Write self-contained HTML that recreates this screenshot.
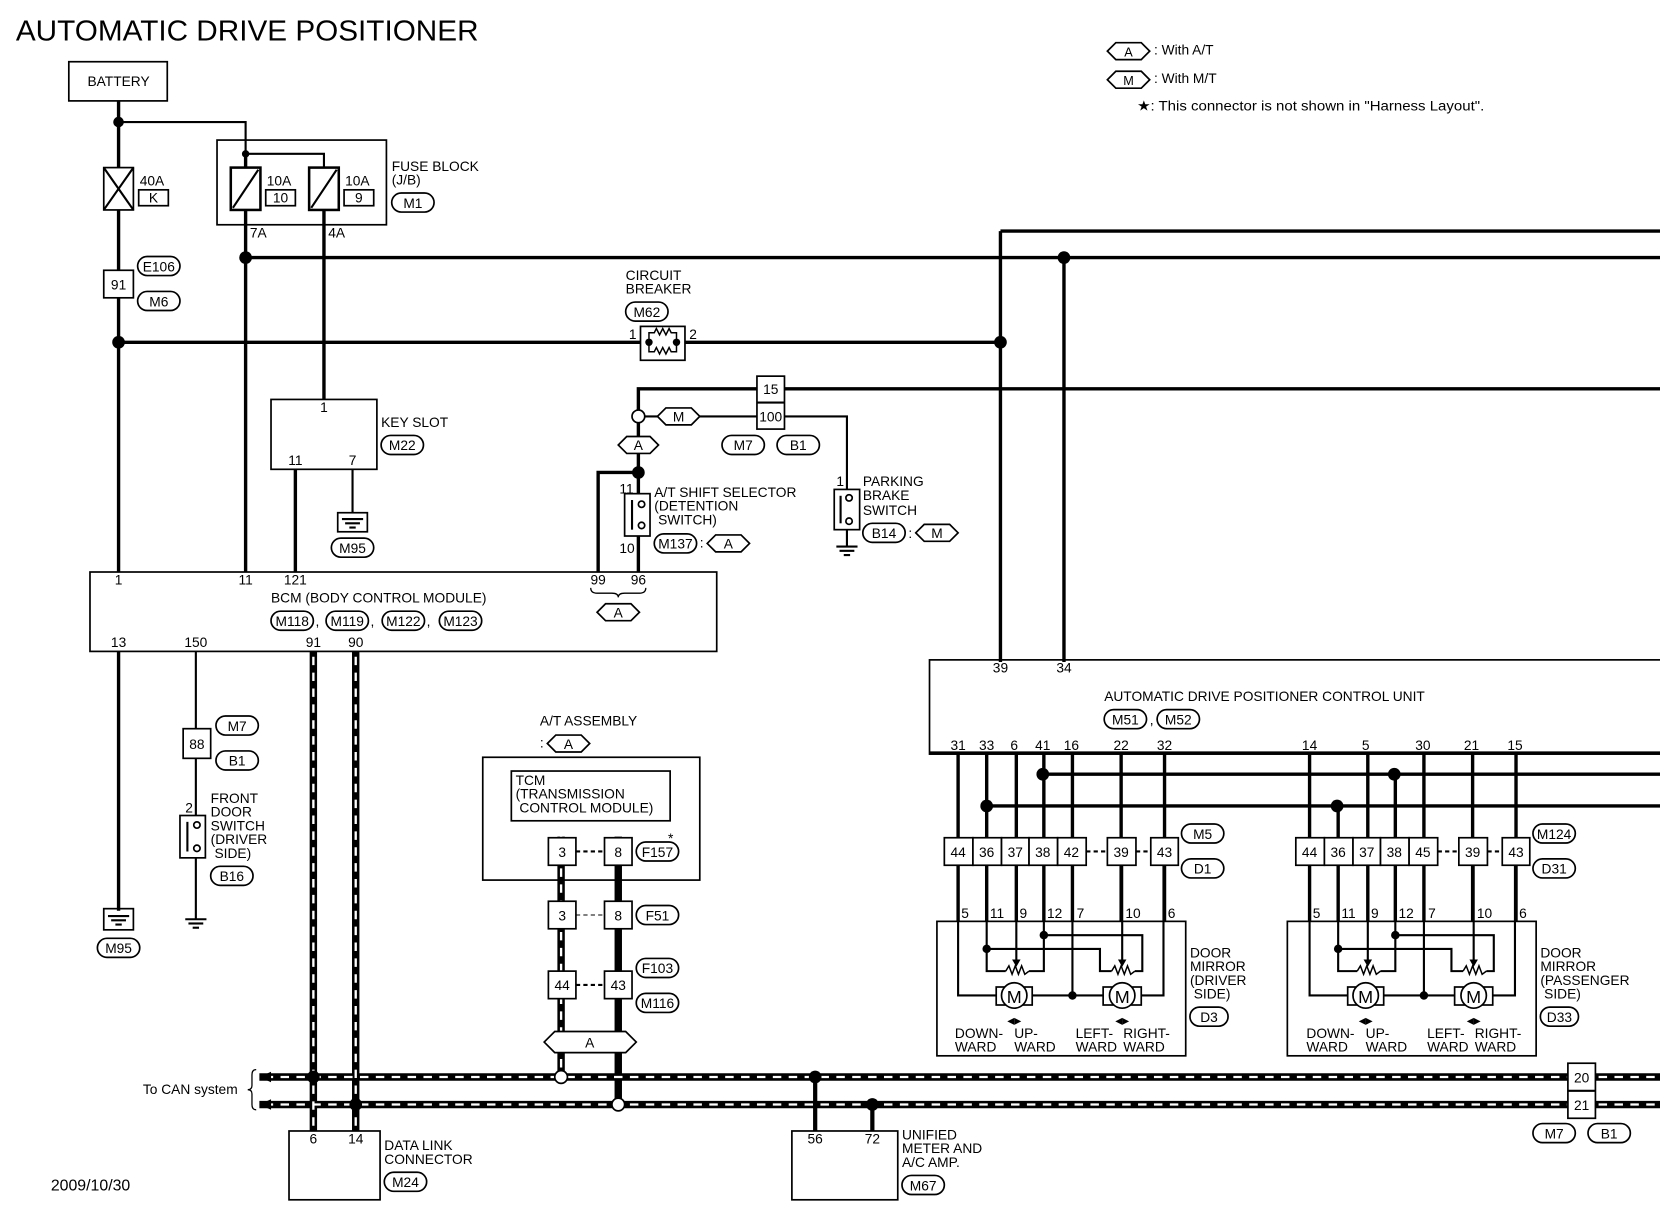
<!DOCTYPE html>
<html><head><meta charset="utf-8"><style>
html,body{margin:0;padding:0;background:#fff;}
svg{display:block}
text{font-family:"Liberation Sans",sans-serif;font-size:13px;fill:#000}
.k{stroke:#000;stroke-width:3.2;fill:none}
.n{stroke:#000;stroke-width:2;fill:none}
.b{stroke:#000;stroke-width:1.6;fill:#fff}
.bo{stroke:#000;stroke-width:1.6;fill:none}
.cb{stroke:#000;stroke-width:7;fill:none}
.cw{stroke:#fff;stroke-width:2.2;fill:none;stroke-dasharray:8 7}
.c{text-anchor:middle}
</style></head><body>
<svg width="1660" height="1216" viewBox="0 0 1568 1148" xmlns="http://www.w3.org/2000/svg">
<rect width="1568" height="1148" fill="#fff"/>
<text x="15" y="38" style="font-size:27px" textLength="437" lengthAdjust="spacingAndGlyphs">AUTOMATIC DRIVE POSITIONER</text>

<!-- legend -->
<polygon class="bo" points="1046,48 1054,40 1078,40 1086,48 1078,56 1054,56"/><text x="1066" y="53" class="c" style="font-size:12px">A</text>
<text x="1090" y="51" style="font-size:13px">: With A/T</text>
<polygon class="bo" points="1046,75 1054,67 1078,67 1086,75 1078,83 1054,83"/><text x="1066" y="80" class="c" style="font-size:12px">M</text>
<text x="1090" y="78" style="font-size:13px">: With M/T</text>
<text x="1074" y="104" style="font-size:13px" textLength="328" lengthAdjust="spacingAndGlyphs">★: This connector is not shown in "Harness Layout".</text>

<!-- battery -->
<rect class="b" x="65" y="58" width="93" height="37"/><text x="112" y="81" class="c">BATTERY</text>
<line class="k" x1="112" y1="95" x2="112" y2="540"/>
<line class="k" x1="112" y1="615" x2="112" y2="860"/>
<circle cx="112" cy="115" r="5"/>
<polyline class="n" points="112,115 232,115 232,145"/>
<!-- 40A fuse -->
<rect class="b" x="98" y="158" width="28" height="40"/>
<line class="n" x1="98" y1="158" x2="126" y2="198"/><line class="n" x1="126" y1="158" x2="98" y2="198"/>
<text x="132" y="175">40A</text><rect class="bo" x="131" y="179" width="28" height="15"/><text x="145" y="191" class="c">K</text>
<!-- fuse block -->
<rect class="bo" x="205" y="132" width="160" height="80"/>
<circle cx="232" cy="145" r="3.5"/>
<polyline class="n" points="232,145 306,145 306,158"/>
<line class="k" x1="232" y1="145" x2="232" y2="158"/>
<rect class="b" x="218" y="158" width="28" height="40" style="stroke-width:2.4"/><line class="n" x1="220" y1="196" x2="244" y2="160"/>
<rect class="b" x="292" y="158" width="28" height="40" style="stroke-width:2.4"/><line class="n" x1="294" y1="196" x2="318" y2="160"/>
<text x="252" y="175">10A</text><rect class="bo" x="251" y="179" width="28" height="15"/><text x="265" y="191" class="c">10</text>
<text x="326" y="175">10A</text><rect class="bo" x="325" y="179" width="28" height="15"/><text x="339" y="191" class="c">9</text>
<text x="370" y="161">FUSE BLOCK</text><text x="370" y="174">(J/B)</text>
<rect class="bo" x="370" y="182" width="40" height="18" rx="9"/><text x="390" y="196" class="c">M1</text>
<text x="236" y="224">7A</text><text x="310" y="224">4A</text>
<line class="k" x1="232" y1="198" x2="232" y2="540"/>
<line class="k" x1="306" y1="198" x2="306" y2="377"/>
<line class="k" x1="232" y1="243" x2="1568" y2="243"/>
<circle cx="232" cy="243" r="6"/><circle cx="1005" cy="243" r="6"/>
<!-- 91 connector -->
<rect class="b" x="98" y="255" width="28" height="26"/><text x="112" y="273" class="c">91</text>
<rect class="bo" x="130" y="242" width="40" height="18" rx="9"/><text x="150" y="256" class="c">E106</text>
<rect class="bo" x="130" y="275" width="40" height="18" rx="9"/><text x="150" y="289" class="c">M6</text>
<!-- 323 line -->
<line class="k" x1="112" y1="323" x2="605" y2="323"/>
<line class="k" x1="647" y1="323" x2="945" y2="323"/>
<circle cx="112" cy="323" r="6"/><circle cx="945" cy="323" r="6"/>
<rect class="bo" x="605" y="308" width="42" height="32"/>
<circle cx="613" cy="323" r="3.5"/><circle cx="639" cy="323" r="3.5"/>
<polyline class="n" style="stroke-width:1.4" points="613,323 613,314 618,314 620,310 623,316 626,310 629,316 632,310 634,314 639,314 639,323"/>
<polyline class="n" style="stroke-width:1.4" points="613,323 613,332 618,332 620,328 623,334 626,328 629,334 632,328 634,332 639,332 639,323"/>
<text x="594" y="320">1</text><text x="651" y="320">2</text>
<text x="591" y="264">CIRCUIT</text><text x="591" y="277">BREAKER</text>
<rect class="bo" x="591" y="285" width="40" height="18" rx="9"/><text x="611" y="299" class="c">M62</text>
<line class="k" x1="945" y1="218" x2="945" y2="625"/>
<line class="k" x1="945" y1="218" x2="1568" y2="218"/>
<line class="k" x1="1005" y1="243" x2="1005" y2="625"/>

<!-- key slot -->
<rect class="bo" x="256" y="377" width="100" height="66"/>
<text x="306" y="389" class="c">1</text><text x="279" y="439" class="c">11</text><text x="333" y="439" class="c">7</text>
<text x="360" y="403">KEY SLOT</text>
<rect class="bo" x="360" y="411" width="40" height="18" rx="9"/><text x="380" y="425" class="c">M22</text>
<line class="k" x1="279" y1="443" x2="279" y2="540"/>
<line class="n" x1="333" y1="443" x2="333" y2="484"/>
<rect class="bo" x="319" y="484" width="28" height="18"/>
<line class="n" x1="323" y1="490" x2="343" y2="490"/><line class="n" x1="326" y1="494" x2="340" y2="494"/><line class="n" x1="330" y1="498" x2="336" y2="498"/>
<rect class="bo" x="313" y="508" width="40" height="18" rx="9"/><text x="333" y="522" class="c">M95</text>

<!-- 15/100 connector -->
<polyline class="k" points="603,393 603,367 715,367"/>
<line class="k" x1="741" y1="367" x2="1568" y2="367"/>
<rect class="b" x="715" y="355" width="26" height="50"/><line class="n" x1="715" y1="380" x2="741" y2="380"/>
<text x="728" y="372" class="c">15</text><text x="728" y="398" class="c">100</text>
<line class="n" x1="609" y1="393" x2="715" y2="393"/>
<polygon class="b" points="621,393 629,385 653,385 661,393 653,401 629,401"/><text x="641" y="398" class="c">M</text>
<circle cx="603" cy="393" r="6" class="b"/>
<polyline class="n" points="741,393 800,393 800,462"/>
<rect class="bo" x="682" y="411" width="40" height="18" rx="9"/><text x="702" y="425" class="c">M7</text>
<rect class="bo" x="734" y="411" width="40" height="18" rx="9"/><text x="754" y="425" class="c">B1</text>
<line class="k" x1="603" y1="399" x2="603" y2="540"/>
<polygon class="b" points="584,420 592,412 614,412 622,420 614,428 592,428"/><text x="603" y="425" class="c">A</text>
<circle cx="603" cy="446" r="6"/>
<polyline class="k" points="603,446 565,446 565,540"/>
<rect class="b" x="590" y="466" width="24" height="40"/>
<line class="n" x1="597" y1="472" x2="597" y2="500"/>
<circle cx="606" cy="476" r="3" class="b"/><circle cx="606" cy="496" r="3" class="b"/>
<text x="585" y="466">11</text><text x="585" y="522">10</text>
<text x="618" y="469">A/T SHIFT SELECTOR</text><text x="618" y="482">(DETENTION</text><text x="618" y="495">&#160;SWITCH)</text>
<rect class="bo" x="618" y="504" width="40" height="18" rx="9"/><text x="638" y="518" class="c">M137</text>
<text x="661" y="517">:</text>
<polygon class="b" points="668,513 676,505 700,505 708,513 700,521 676,521"/><text x="688" y="518" class="c">A</text>
<!-- parking brake -->
<rect class="b" x="788" y="462" width="24" height="38"/>
<line class="n" x1="794" y1="468" x2="794" y2="494"/>
<circle cx="802" cy="470" r="3" class="b"/><circle cx="802" cy="492" r="3" class="b"/>
<text x="790" y="459">1</text>
<line class="n" x1="800" y1="500" x2="800" y2="516"/>
<line class="n" x1="790" y1="516" x2="810" y2="516"/><line class="n" x1="793" y1="520" x2="807" y2="520"/><line class="n" x1="797" y1="524" x2="803" y2="524"/>
<text x="815" y="459">PARKING</text><text x="815" y="472">BRAKE</text><text x="815" y="486">SWITCH</text>
<rect class="bo" x="815" y="494" width="40" height="18" rx="9"/><text x="835" y="508" class="c">B14</text>
<text x="858" y="508">:</text>
<polygon class="b" points="865,503 873,495 897,495 905,503 897,511 873,511"/><text x="885" y="508" class="c">M</text>

<!-- BCM -->
<rect class="bo" x="85" y="540" width="592" height="75"/>
<text x="112" y="552" class="c">1</text><text x="232" y="552" class="c">11</text><text x="279" y="552" class="c">121</text>
<text x="565" y="552" class="c">99</text><text x="603" y="552" class="c">96</text>
<path class="n" style="stroke-width:1.2" d="M558,555 q0,5 6,5 h14 q6,0 6,4 q0,-4 6,-4 h14 q6,0 6,-5"/>
<polygon class="b" points="564,578 572,570 596,570 604,578 596,586 572,586"/><text x="584" y="583" class="c">A</text>
<text x="256" y="569">BCM (BODY CONTROL MODULE)</text>
<rect class="bo" x="256" y="577" width="40" height="18" rx="9"/><text x="276" y="591" class="c">M118</text>
<text x="298" y="591">,</text>
<rect class="bo" x="308" y="577" width="40" height="18" rx="9"/><text x="328" y="591" class="c">M119</text>
<text x="350" y="591">,</text>
<rect class="bo" x="361" y="577" width="40" height="18" rx="9"/><text x="381" y="591" class="c">M122</text>
<text x="403" y="591">,</text>
<rect class="bo" x="415" y="577" width="40" height="18" rx="9"/><text x="435" y="591" class="c">M123</text>
<text x="112" y="611" class="c">13</text><text x="185" y="611" class="c">150</text><text x="296" y="611" class="c">91</text><text x="336" y="611" class="c">90</text>
<!-- M95 ground -->
<rect class="bo" x="98" y="858" width="28" height="20"/>
<line class="n" x1="102" y1="865" x2="122" y2="865"/><line class="n" x1="105" y1="869" x2="119" y2="869"/><line class="n" x1="109" y1="873" x2="115" y2="873"/>
<rect class="bo" x="92" y="886" width="40" height="18" rx="9"/><text x="112" y="900" class="c">M95</text>
<!-- 150 -->
<line class="n" x1="185" y1="615" x2="185" y2="688"/>
<rect class="b" x="173" y="688" width="26" height="28"/><text x="186" y="707" class="c">88</text>
<rect class="bo" x="204" y="676" width="40" height="18" rx="9"/><text x="224" y="690" class="c">M7</text>
<rect class="bo" x="204" y="709" width="40" height="18" rx="9"/><text x="224" y="723" class="c">B1</text>
<line class="n" x1="185" y1="716" x2="185" y2="770"/>
<rect class="b" x="170" y="770" width="24" height="40"/>
<line class="n" x1="177" y1="776" x2="177" y2="804"/>
<circle cx="186" cy="779" r="3" class="b"/><circle cx="186" cy="801" r="3" class="b"/>
<text x="175" y="767">2</text>
<line class="n" x1="185" y1="810" x2="185" y2="868"/>
<line class="n" x1="175" y1="868" x2="195" y2="868"/><line class="n" x1="178" y1="872" x2="192" y2="872"/><line class="n" x1="182" y1="876" x2="188" y2="876"/>
<text x="199" y="758">FRONT</text><text x="199" y="771">DOOR</text><text x="199" y="784">SWITCH</text><text x="199" y="797">(DRIVER</text><text x="199" y="810">&#160;SIDE)</text>
<rect class="bo" x="199" y="818" width="40" height="18" rx="9"/><text x="219" y="832" class="c">B16</text>

<!-- CAN lines -->
<path class="cb" d="M296,615 V1068 M336,615 V1068 M245,1017 H1568 M245,1043 H1568 M530,790 V1017 M584,790 V1043"/>
<path class="cw" d="M296,620 V1068 M336,620 V1068 M250,1017 H1568 M250,1043 H1568 M530,790 V1010"/>
<polygon points="245,1017 256,1012 256,1022"/><polygon points="245,1043 256,1038 256,1048"/>
<text x="135" y="1033">To CAN system</text>
<path class="n" style="stroke-width:1.2" d="M242,1010 q-4,0 -4,5 v10 q0,4 -4,4 q4,0 4,4 v10 q0,5 4,5"/>
<circle cx="296" cy="1017" r="6"/><circle cx="336" cy="1043" r="6"/><circle cx="770" cy="1017" r="6"/><circle cx="824" cy="1043" r="6"/>
<circle cx="530" cy="1017" r="6" class="b"/><circle cx="584" cy="1043" r="6" class="b"/>
<line class="n" style="stroke-width:4" x1="770" y1="1017" x2="770" y2="1068"/>
<line class="n" style="stroke-width:4" x1="824" y1="1043" x2="824" y2="1068"/>
<!-- data link -->
<rect class="bo" x="273" y="1068" width="86" height="65"/>
<text x="296" y="1080" class="c">6</text><text x="336" y="1080" class="c">14</text>
<text x="363" y="1086">DATA LINK</text><text x="363" y="1099">CONNECTOR</text>
<rect class="bo" x="363" y="1107" width="40" height="18" rx="9"/><text x="383" y="1121" class="c">M24</text>
<!-- unified meter -->
<rect class="bo" x="748" y="1068" width="100" height="65"/>
<text x="770" y="1080" class="c">56</text><text x="824" y="1080" class="c">72</text>
<text x="852" y="1076">UNIFIED</text><text x="852" y="1089">METER AND</text><text x="852" y="1102">A/C AMP.</text>
<rect class="bo" x="852" y="1110" width="40" height="18" rx="9"/><text x="872" y="1124" class="c">M67</text>
<text x="48" y="1124" style="font-size:15px">2009/10/30</text>
<!-- 20/21 -->
<rect class="b" x="1481" y="1004" width="26" height="52"/><line class="n" x1="1481" y1="1030" x2="1507" y2="1030"/>
<text x="1494" y="1022" class="c">20</text><text x="1494" y="1048" class="c">21</text>
<rect class="bo" x="1448" y="1061" width="40" height="18" rx="9"/><text x="1468" y="1075" class="c">M7</text>
<rect class="bo" x="1500" y="1061" width="40" height="18" rx="9"/><text x="1520" y="1075" class="c">B1</text>

<!-- A/T assembly -->
<text x="510" y="685">A/T ASSEMBLY</text>
<text x="510" y="706">:</text>
<polygon class="b" points="517,702 525,694 549,694 557,702 549,710 525,710"/><text x="537" y="707" class="c">A</text>
<rect class="bo" x="456" y="715" width="205" height="116"/>
<rect class="bo" x="483" y="728" width="150" height="47"/>
<text x="487" y="741">TCM</text><text x="487" y="754">(TRANSMISSION</text><text x="487" y="767">&#160;CONTROL MODULE)</text>
<g>
<rect class="b" x="518" y="791" width="26" height="26"/><text x="531" y="809" class="c">3</text>
<rect class="b" x="571" y="791" width="26" height="26"/><text x="584" y="809" class="c">8</text>
<line class="n" style="stroke-dasharray:4 3" x1="544" y1="804" x2="571" y2="804"/>
<rect class="b" x="518" y="851" width="26" height="26"/><text x="531" y="869" class="c">3</text>
<rect class="b" x="571" y="851" width="26" height="26"/><text x="584" y="869" class="c">8</text>
<line class="n" style="stroke-dasharray:4 3;stroke-width:1" x1="544" y1="864" x2="571" y2="864"/>
<rect class="b" x="518" y="917" width="26" height="26"/><text x="531" y="935" class="c">44</text>
<rect class="b" x="571" y="917" width="26" height="26"/><text x="584" y="935" class="c">43</text>
<line class="n" style="stroke-dasharray:4 3" x1="544" y1="930" x2="571" y2="930"/>
</g>
<rect class="bo" x="601" y="795" width="40" height="18" rx="9"/><text x="621" y="809" class="c">F157</text><text x="631" y="796">*</text>
<rect class="bo" x="601" y="855" width="40" height="18" rx="9"/><text x="621" y="869" class="c">F51</text>
<rect class="bo" x="601" y="905" width="40" height="18" rx="9"/><text x="621" y="919" class="c">F103</text>
<rect class="bo" x="601" y="938" width="40" height="18" rx="9"/><text x="621" y="952" class="c">M116</text>
<polygon class="b" points="514,984 524,974 591,974 601,984 591,994 524,994"/><text x="557" y="989" class="c">A</text>

<!-- ADP control unit -->
<rect class="bo" x="878" y="623" width="700" height="89"/>
<text x="945" y="635" class="c">39</text><text x="1005" y="635" class="c">34</text>
<text x="1043" y="662">AUTOMATIC DRIVE POSITIONER CONTROL UNIT</text>
<rect class="bo" x="1043" y="670" width="40" height="18" rx="9"/><text x="1063" y="684" class="c">M51</text>
<text x="1086" y="684">,</text>
<rect class="bo" x="1093" y="670" width="40" height="18" rx="9"/><text x="1113" y="684" class="c">M52</text>
<g class="c">
<text x="905" y="708" class="c">31</text><text x="932" y="708" class="c">33</text><text x="958" y="708" class="c">6</text><text x="985" y="708" class="c">41</text><text x="1012" y="708" class="c">16</text><text x="1059" y="708" class="c">22</text><text x="1100" y="708" class="c">32</text>
<text x="1237" y="708" class="c">14</text><text x="1290" y="708" class="c">5</text><text x="1344" y="708" class="c">30</text><text x="1390" y="708" class="c">21</text><text x="1431" y="708" class="c">15</text>
</g>
<line class="k" x1="878" y1="711" x2="1568" y2="711"/>
<line class="k" x1="985" y1="731" x2="1568" y2="731"/>
<line class="k" x1="932" y1="761" x2="1568" y2="761"/>
<circle cx="985" cy="731" r="6"/><circle cx="932" cy="761" r="6"/><circle cx="1317" cy="731" r="6"/><circle cx="1263" cy="761" r="6"/>

<!-- left mirror wires -->
<path class="k" d="M905,711 V942 M932,711 V917 H945 M960,711 V905 M986,711 V917 M1013,711 V942 M1059,711 V905 M1100,711 V942"/>
<g>
<rect class="b" x="892" y="791" width="27" height="26"/><text x="905" y="809" class="c">44</text>
<rect class="b" x="919" y="791" width="27" height="26"/><text x="932" y="809" class="c">36</text>
<rect class="b" x="946" y="791" width="26" height="26"/><text x="959" y="809" class="c">37</text>
<rect class="b" x="972" y="791" width="27" height="26"/><text x="985" y="809" class="c">38</text>
<rect class="b" x="999" y="791" width="27" height="26"/><text x="1012" y="809" class="c">42</text>
<line class="n" style="stroke-dasharray:4 3" x1="1026" y1="804" x2="1046" y2="804"/>
<rect class="b" x="1046" y="791" width="27" height="26"/><text x="1059" y="809" class="c">39</text>
<line class="n" style="stroke-dasharray:4 3" x1="1073" y1="804" x2="1087" y2="804"/>
<rect class="b" x="1087" y="791" width="26" height="26"/><text x="1100" y="809" class="c">43</text>
</g>
<rect class="bo" x="1116" y="778" width="40" height="18" rx="9"/><text x="1136" y="792" class="c">M5</text>
<rect class="bo" x="1116" y="811" width="40" height="18" rx="9"/><text x="1136" y="825" class="c">D1</text>
<rect class="bo" x="885" y="870" width="235" height="127" style="fill:#fff"/>
<path class="n" d="M905,817 V940 H945 M932,817 V917 H950 M986,817 V917 H972 M960,817 V907 M1013,817 V940 M1060,817 V907 M1099,817 V940 H1078 M932,896 H1039 V917 H1050 M986,883 H1079 V917 H1072 M1013,940 H1042 M975,940 H1013"/>
<circle cx="932" cy="896" r="4"/><circle cx="986" cy="883" r="4"/><circle cx="1013" cy="940" r="4"/>
<polyline class="n" style="stroke-width:1.4" points="950,917 953,912 956,920 959,912 962,920 965,912 968,920 972,917"/>
<polyline class="n" style="stroke-width:1.4" points="1050,917 1053,912 1056,920 1059,912 1062,920 1065,912 1068,920 1072,917"/>
<polygon points="956,906 964,906 960,913"/><polygon points="1056,906 1064,906 1060,913"/>
<g>
<rect class="b" x="941" y="932" width="34" height="17"/><circle cx="958" cy="940" r="12" class="b"/><text x="958" y="947" class="c" style="font-size:17px">M</text>
<rect class="b" x="1042" y="932" width="36" height="17"/><circle cx="1060" cy="940" r="12" class="b"/><text x="1060" y="947" class="c" style="font-size:17px">M</text>
</g>
<text x="958" y="968" class="c">◂▸</text><text x="1060" y="968" class="c">◂▸</text>
<text x="902" y="980">DOWN-</text><text x="902" y="993">WARD</text><text x="958" y="980">UP-</text><text x="958" y="993">WARD</text>
<text x="1016" y="980">LEFT-</text><text x="1016" y="993">WARD</text><text x="1061" y="980">RIGHT-</text><text x="1061" y="993">WARD</text>
<text x="908" y="867">5</text><text x="935" y="867">11</text><text x="963" y="867">9</text><text x="989" y="867">12</text><text x="1017" y="867">7</text><text x="1063" y="867">10</text><text x="1103" y="867">6</text>
<text x="1124" y="904">DOOR</text><text x="1124" y="917">MIRROR</text><text x="1124" y="930">(DRIVER</text><text x="1124" y="943">&#160;SIDE)</text>
<rect class="bo" x="1124" y="951" width="36" height="18" rx="9"/><text x="1142" y="965" class="c">D3</text>

<!-- right mirror -->
<g transform="translate(332,0)">
<path class="k" d="M905,711 V942 M932,761 V917 M960,711 V905 M986,731 V917 M1013,711 V942 M1059,711 V905 M1100,711 V942"/>
<rect class="b" x="892" y="791" width="27" height="26"/><text x="905" y="809" class="c">44</text>
<rect class="b" x="919" y="791" width="27" height="26"/><text x="932" y="809" class="c">36</text>
<rect class="b" x="946" y="791" width="26" height="26"/><text x="959" y="809" class="c">37</text>
<rect class="b" x="972" y="791" width="27" height="26"/><text x="985" y="809" class="c">38</text>
<rect class="b" x="999" y="791" width="27" height="26"/><text x="1012" y="809" class="c">45</text>
<line class="n" style="stroke-dasharray:4 3" x1="1026" y1="804" x2="1046" y2="804"/>
<rect class="b" x="1046" y="791" width="27" height="26"/><text x="1059" y="809" class="c">39</text>
<line class="n" style="stroke-dasharray:4 3" x1="1073" y1="804" x2="1087" y2="804"/>
<rect class="b" x="1087" y="791" width="26" height="26"/><text x="1100" y="809" class="c">43</text>
<rect class="bo" x="1116" y="778" width="40" height="18" rx="9"/><text x="1136" y="792" class="c">M124</text>
<rect class="bo" x="1116" y="811" width="40" height="18" rx="9"/><text x="1136" y="825" class="c">D31</text>
<rect class="bo" x="884" y="870" width="235" height="127" style="fill:#fff"/>
<path class="n" d="M905,817 V940 H945 M932,817 V917 H950 M986,817 V917 H972 M960,817 V907 M1013,817 V940 M1060,817 V907 M1099,817 V940 H1078 M932,896 H1039 V917 H1050 M986,883 H1079 V917 H1072 M1013,940 H1042 M975,940 H1013"/>
<circle cx="932" cy="896" r="4"/><circle cx="986" cy="883" r="4"/><circle cx="1013" cy="940" r="4"/>
<polyline class="n" style="stroke-width:1.4" points="950,917 953,912 956,920 959,912 962,920 965,912 968,920 972,917"/>
<polyline class="n" style="stroke-width:1.4" points="1050,917 1053,912 1056,920 1059,912 1062,920 1065,912 1068,920 1072,917"/>
<polygon points="956,906 964,906 960,913"/><polygon points="1056,906 1064,906 1060,913"/>
<rect class="b" x="941" y="932" width="34" height="17"/><circle cx="958" cy="940" r="12" class="b"/><text x="958" y="947" class="c" style="font-size:17px">M</text>
<rect class="b" x="1042" y="932" width="36" height="17"/><circle cx="1060" cy="940" r="12" class="b"/><text x="1060" y="947" class="c" style="font-size:17px">M</text>
<text x="958" y="968" class="c">◂▸</text><text x="1060" y="968" class="c">◂▸</text>
<text x="902" y="980">DOWN-</text><text x="902" y="993">WARD</text><text x="958" y="980">UP-</text><text x="958" y="993">WARD</text>
<text x="1016" y="980">LEFT-</text><text x="1016" y="993">WARD</text><text x="1061" y="980">RIGHT-</text><text x="1061" y="993">WARD</text>
<text x="908" y="867">5</text><text x="935" y="867">11</text><text x="963" y="867">9</text><text x="989" y="867">12</text><text x="1017" y="867">7</text><text x="1063" y="867">10</text><text x="1103" y="867">6</text>
<text x="1123" y="904">DOOR</text><text x="1123" y="917">MIRROR</text><text x="1123" y="930">(PASSENGER</text><text x="1123" y="943">&#160;SIDE)</text>
<rect class="bo" x="1123" y="951" width="36" height="18" rx="9"/><text x="1141" y="965" class="c">D33</text>
</g>
</svg>
</body></html>
